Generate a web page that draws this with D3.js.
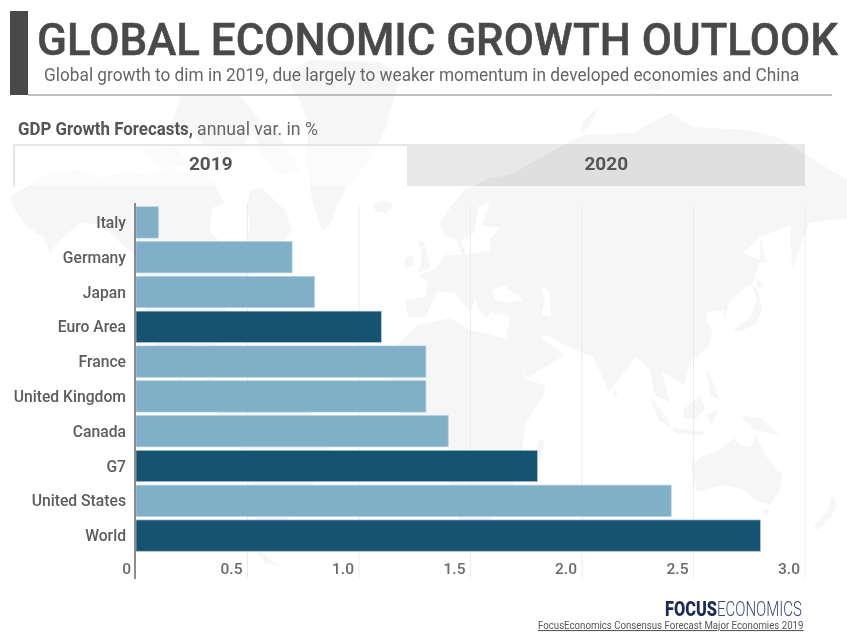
<!DOCTYPE html>
<html><head><meta charset="utf-8">
<script src="https://cdn.jsdelivr.net/npm/d3@7"></script>
<style>html,body{margin:0;padding:0;background:#fff}svg{display:block}text{font-family:Roboto,sans-serif}</style>
</head><body><svg id="c" width="847" height="642"></svg>
<script>
const categories=["Italy","Germany","Japan","Euro Area","France","United Kingdom","Canada","G7","United States","World"];
const values=[0.1,0.7,0.8,1.1,1.3,1.3,1.4,1.8,2.4,2.8];
const aggregates=["Euro Area","G7","World"];
const tabs=["2019","2020"];
const xTicks=[0,0.5,1,1.5,2,2.5,3];
const titleText="GLOBAL ECONOMIC GROWTH OUTLOOK";
const subtitleText="Global growth to dim in 2019, due largely to weaker momentum in developed economies and China";
const sourceText="FocusEconomics Consensus Forecast Major Economies 2019";

const root0=d3.select("#c");
root0.append("defs").append("filter").attr("id","soft").attr("x",0).attr("y",0).attr("filterUnits","userSpaceOnUse")
  .attr("width",847).attr("height",642).append("feGaussianBlur").attr("stdDeviation",0.4);
root0.append("rect").attr("width",847).attr("height",642).attr("fill","#fff");
const svg=root0.append("g").attr("filter","url(#soft)");

// faint world map in the background (decoration)
const land=[
"M10 197L30 185 50 172 80 170 100 178 125 172 150 175 170 168 190 175 205 170 215 185 225 203 212 208 210 232 225 246 245 250 250 225 247 205 250 190 262 188 285 210 292 232 278 245 262 250 285 262 255 268 240 285 228 305 214 330 218 352 210 345 190 345 172 352 172 372 190 385 210 378 225 400 205 392 180 380 160 355 148 325 142 290 135 255 100 225 80 223 60 240 50 253 44 238 25 225 15 210Z",
"M225 400L255 385 290 405 335 425 325 470 295 505 280 535 262 553 278 565 265 563 252 545 258 500 240 450 215 420Z",
"M180 96L240 96 260 120 240 150 215 155 195 135 170 130Z","M250 125L275 130 300 170 280 175 262 155Z","M140 150L175 145 190 165 160 168Z",
"M297 96L285 75 310 60 380 62 400 78 385 130 370 160 345 190 337 206 330 225 322 232 312 200 305 155 310 125Z",
"M373 204L385 200 394 206 385 213 376 212Z",
"M418 240L424 242 431 268 418 273 422 258Z","M405 258L413 255 413 266 405 269Z",
"M408 317L405 300 425 297 428 283 420 275 437 268 445 255 462 255 456 240 445 235 440 223 450 208 464 190 490 178 510 175 545 155 583 135 633 133 670 113 693 127 747 130 777 137 847 180 847 218 809 223 792 270 790 225 760 237 743 253 760 260 753 283 730 300 724 322 724 310 705 313 712 333 708 347 690 362 684 385 662 372 670 403 655 395 650 370 636 357 609 392 593 357 575 350 545 335 540 337 565 355 527 378 505 340 509 322 510 316 490 312 487 318 480 312 475 300 470 312 455 293 437 292 425 317Z",
"M398 345L418 325 450 318 470 330 505 338 527 380 545 385 545 393 525 425 522 450 510 500 480 530 462 530 450 490 448 440 430 415 400 415 385 395 385 365Z",
"M540 438L545 442 535 480 528 475Z","M614 388L618 395 613 397Z",
"M650 397L665 415 672 428 658 420Z","M672 428L705 432 700 436 675 433Z","M683 410L700 395 705 408 695 420 684 418Z","M706 415L718 410 712 425Z","M740 415L760 418 780 435 755 430Z","M706 370L712 380 720 400 710 395Z",
"M733 330L750 318 757 300 752 285 758 290 762 310 755 325 738 332Z","M756 278L765 285 757 290Z","M760 235L766 262 760 262Z",
"M691 465L705 455 720 450 734 438 740 445 750 447 757 436 765 455 782 475 780 490 770 505 755 500 745 490 725 485 697 492Z","M762 510L770 510 766 516Z",
"M837 505L832 495 828 510 814 527 818 530 832 515Z",
"M647 75L662 78 660 90 648 90Z","M583 122L600 105 590 125 580 135Z"];
const seas=["M462 240L475 232 478 207 490 203 482 225 500 228 490 240 490 250 465 255Z","M492 290L505 286 523 300 505 303 495 300Z","M541 287L550 290 551 317 541 315 545 300Z"];
svg.append("g").selectAll("path").data(land).join("path").attr("d",d=>d).attr("fill","#f6f6f6");
svg.append("g").selectAll("path").data(seas).join("path").attr("d",d=>d).attr("fill","#fff");

function fit(sel,x0,x1,yb){const l=sel.node().getComputedTextLength();sel.attr("transform",`translate(${x0},${yb}) scale(${(x1-x0)/l},1)`);return sel;}

svg.append("rect").attr("x",10).attr("y",11).attr("width",18).attr("height",84).attr("fill","#4a4a4a");
svg.append("line").attr("x1",28).attr("x2",832).attr("y1",95).attr("y2",95).attr("stroke","#aaa").attr("stroke-width",1.5);
fit(svg.append("text").attr("font-size",44).attr("font-weight",500).attr("stroke","#4a4a4a").attr("stroke-width",0.5).attr("fill","#4a4a4a").text(titleText),37,838,54.5);
fit(svg.append("text").attr("font-size",17.5).attr("fill","#666").text(subtitleText),44,800,81);
fit(svg.append("text").attr("font-size",18).attr("font-weight",700).attr("fill","#555").text("GDP Growth Forecasts,"),18,193,135);
fit(svg.append("text").attr("font-size",18).attr("fill","#666").text("annual var. in %"),197,318,135);

const tx=d3.scaleBand().domain(tabs).range([14,805]);
svg.append("rect").attr("x",407).attr("y",144).attr("width",398).attr("height",42).attr("fill","rgba(0,0,0,0.09)");
svg.append("rect").attr("x",14).attr("y",146).attr("width",393).attr("height",40).attr("fill","rgba(255,255,255,0.55)");
svg.append("path").attr("d","M14 186V145H407").attr("fill","none").attr("stroke","#e6e6e6").attr("stroke-width",2);
svg.selectAll("text.tab").data(tabs).join("text").attr("class","tab").attr("x",d=>tx(d)+tx.bandwidth()/2-1).attr("y",170).attr("text-anchor","middle").attr("font-size",19).attr("font-weight",700).attr("fill","#555").text(d=>d);

const x=d3.scaleLinear().domain([0,3]).range([136,805]);
const y=d3.scaleBand().domain(categories).range([205,553]).paddingInner(0.1).paddingOuter(0.05);
svg.append("g").selectAll("line").data(xTicks.slice(1)).join("line").attr("x1",d=>x(d)).attr("x2",d=>x(d)).attr("y1",205).attr("y2",578).attr("stroke","#ececec");
svg.append("g").selectAll("rect").data(categories).join("rect")
 .attr("x",x(0)).attr("y",d=>y(d)).attr("height",y.bandwidth())
 .attr("width",(d,i)=>x(values[i])-x(0))
 .attr("fill",d=>aggregates.includes(d)?"#19526f":"#80afc8")
 .attr("stroke",d=>aggregates.includes(d)?"#a9c4d3":"#b4d0df").attr("stroke-width",0.7);
const yAxis=svg.append("g").attr("transform","translate(135,0.5)").call(d3.axisLeft(y).tickSize(0).tickPadding(9));
yAxis.select(".domain").remove();
yAxis.selectAll("text").attr("font-size",15.7).attr("font-weight",500).attr("font-family","Roboto,sans-serif").attr("fill","#5c5c5c");
svg.append("line").attr("x1",135).attr("x2",135).attr("y1",203).attr("y2",579).attr("stroke","#666").attr("stroke-width",1.5);
svg.selectAll("text.xt").data(xTicks).join("text").attr("class","xt").attr("y",574).attr("x",d=>x(d)-5).attr("text-anchor","end").attr("font-size",15.5).attr("font-weight",500).attr("fill","#6a6a6a").text(d=>d===0?"0":d3.format(".1f")(d));

fit(svg.append("text").attr("font-size",20).attr("font-weight",900).attr("fill","#1c2a55").text("FOCUS"),665,717,616);
fit(svg.append("text").attr("font-size",20).attr("font-weight",300).attr("fill","#3a4a70").text("ECONOMICS"),717,802,616);
fit(svg.append("text").attr("font-size",10.5).attr("fill","#555").attr("text-decoration","underline").text(sourceText),538,804,629);
</script></body></html>
